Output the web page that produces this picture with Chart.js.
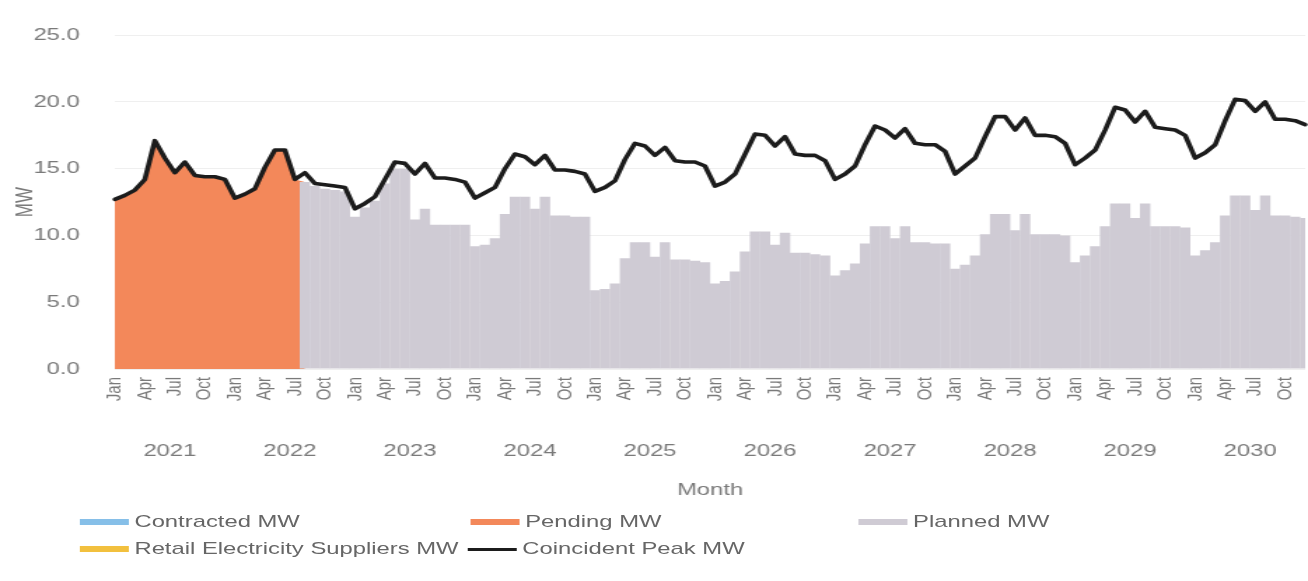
<!DOCTYPE html>
<html>
<head>
<meta charset="utf-8">
<title>Capacity vs Coincident Peak</title>
<script src="https://cdn.jsdelivr.net/npm/chart.js@4.4.1/dist/chart.umd.min.js"></script>
<style>
    html, body { margin: 0; padding: 0; background: #fff; overflow: hidden; }
    /* the source picture is stretched sideways, so the whole chart is drawn narrow and widened */
    #stage { position: absolute; left: 0; top: 0; width: 934px; height: 581px; transform: scaleX(1.4004); transform-origin: 0 0; }
    #chartBox { position: absolute; left: 0; top: 0; width: 934px; height: 505px; }
    #legend { position: absolute; left: 0; top: 505px; width: 934px; height: 76px;
              font-family: 'Liberation Sans', Arial, sans-serif; font-size: 17px; color: #666666; }
    .legend-item { position: absolute; display: flex; align-items: center; white-space: nowrap; height: 20px; }
    .legend-mark { display: inline-block; width: 35px; margin-right: 4px; }
</style>
</head>
<body>
<div id="stage">
    <div id="chartBox"><canvas id="capacityChart" width="934" height="505"></canvas></div>
    <div id="legend"></div>
</div>
<script>
/**
 * Capacity (Pending / Planned) vs Coincident Peak, Jan 2021 - Dec 2030
 */

const months = ['Jan', 'Feb', 'Mar', 'Apr', 'May', 'Jun', 'Jul', 'Aug', 'Sep', 'Oct', 'Nov', 'Dec'];
const years = [2021, 2022, 2023, 2024, 2025, 2026, 2027, 2028, 2029, 2030];
const yTicks = [0, 5, 10, 15, 20, 25];

// Coincident Peak MW, one value per month (Jan 2021 .. Dec 2030)
const peakMW = [
    12.7, 13.0, 13.4, 14.2, 17.1, 15.8, 14.7, 15.5, 14.5, 14.4, 14.4, 14.2,
    12.8, 13.1, 13.5, 15.1, 16.4, 16.4, 14.2, 14.7, 13.9, 13.8, 13.7, 13.6,
    12.0, 12.4, 12.9, 14.2, 15.5, 15.4, 14.6, 15.4, 14.3, 14.3, 14.2, 14.0,
    12.8, 13.2, 13.6, 15.0, 16.1, 15.9, 15.3, 16.0, 14.9, 14.9, 14.8, 14.6,
    13.3, 13.6, 14.1, 15.7, 16.9, 16.7, 16.0, 16.6, 15.6, 15.5, 15.5, 15.2,
    13.7, 14.0, 14.6, 16.1, 17.6, 17.5, 16.7, 17.4, 16.1, 16.0, 16.0, 15.6,
    14.2, 14.6, 15.2, 16.8, 18.2, 17.9, 17.3, 18.0, 16.9, 16.8, 16.8, 16.3,
    14.6, 15.2, 15.8, 17.4, 18.9, 18.9, 17.9, 18.8, 17.5, 17.5, 17.4, 16.9,
    15.3, 15.8, 16.4, 17.9, 19.6, 19.4, 18.5, 19.3, 18.1, 18.0, 17.9, 17.5,
    15.8, 16.2, 16.8, 18.6, 20.2, 20.1, 19.3, 20.0, 18.7, 18.7, 18.6, 18.3
];

// Pending MW, Jan 2021 .. Aug 2022
const pendingMW = [
    12.7, 13.0, 13.4, 14.2, 17.1, 15.8, 14.7, 15.5, 14.5, 14.4, 14.4, 14.2,
    12.8, 13.1, 13.5, 15.1, 16.4, 16.4, 14.2, 14.0
];

// Planned MW, Aug 2022 .. Dec 2030
const plannedStart = 19; // Aug 2022
const plannedMW = [
    14.0, 13.7, 13.5, 13.4, 13.3,
    11.4, 12.1, 12.6, 13.9, 15.0, 15.0, 11.2, 12.0, 10.8, 10.8, 10.8, 10.8,
    9.2, 9.3, 9.8, 11.6, 12.9, 12.9, 12.0, 12.9, 11.5, 11.5, 11.4, 11.4,
    5.9, 6.0, 6.4, 8.3, 9.5, 9.5, 8.4, 9.5, 8.2, 8.2, 8.1, 8.0,
    6.4, 6.6, 7.3, 8.8, 10.3, 10.3, 9.3, 10.2, 8.7, 8.7, 8.6, 8.5,
    7.0, 7.4, 7.9, 9.4, 10.7, 10.7, 9.8, 10.7, 9.5, 9.5, 9.4, 9.4,
    7.5, 7.8, 8.5, 10.1, 11.6, 11.6, 10.4, 11.6, 10.1, 10.1, 10.1, 10.0,
    8.0, 8.5, 9.2, 10.7, 12.4, 12.4, 11.3, 12.4, 10.7, 10.7, 10.7, 10.6,
    8.5, 8.9, 9.5, 11.5, 13.0, 13.0, 11.9, 13.0, 11.5, 11.5, 11.4, 11.3
];

const FONT = "'Liberation Sans', Arial, sans-serif";
const TEXT_COLOR = '#7a7a7a';

const COLORS = {
    contracted: '#86bfe8',
    pending: '#f3885a',
    planned: '#cfcbd4',
    retail: '#f2c03e',
    peak: '#1c1c1c'
};

// Legend slots (left / row) in the un-stretched stage
const legendSlots = [
    { left: 57, row: 0 },   // Contracted
    { left: 336, row: 0 },  // Pending
    { left: 613, row: 0 },  // Planned
    { left: 57, row: 1 },   // Retail
    { left: 334, row: 1 }   // Coincident Peak
];

document.addEventListener('DOMContentLoaded', () => {
    const chart = renderChart();
    renderLegend(chart);
});

/**
 * Build chart
 */
function renderChart() {
    const categories = [];
    years.forEach(y => months.forEach(m => categories.push(m)));

    const plannedSeries = Array(plannedStart).fill(null).concat(plannedMW);

    const ctx = document.getElementById('capacityChart').getContext('2d');

    return new Chart(ctx, {
        data: {
            labels: categories,
            datasets: [
                {
                    type: 'line',
                    label: 'Contracted MW',
                    data: [],
                    borderColor: COLORS.contracted,
                    backgroundColor: COLORS.contracted,
                    xAxisID: 'x'
                },
                {
                    type: 'line',
                    label: 'Pending MW',
                    data: pendingMW,
                    borderWidth: 0,
                    borderColor: COLORS.pending,
                    backgroundColor: COLORS.pending,
                    pointRadius: 0,
                    fill: 'origin',
                    tension: 0,
                    order: 3,
                    xAxisID: 'x'
                },
                {
                    type: 'bar',
                    label: 'Planned MW',
                    data: plannedSeries,
                    backgroundColor: COLORS.planned,
                    borderColor: COLORS.planned,
                    borderWidth: 0,
                    barPercentage: 1.04,
                    categoryPercentage: 1,
                    order: 2,
                    xAxisID: 'x'
                },
                {
                    type: 'line',
                    label: 'Retail Electricity Suppliers MW',
                    data: [],
                    borderColor: COLORS.retail,
                    backgroundColor: COLORS.retail,
                    xAxisID: 'x'
                },
                {
                    type: 'line',
                    label: 'Coincident Peak MW',
                    data: peakMW,
                    borderColor: COLORS.peak,
                    backgroundColor: COLORS.peak,
                    borderWidth: 3.6,
                    borderJoinStyle: 'round',
                    borderCapStyle: 'round',
                    pointRadius: 0,
                    tension: 0,
                    fill: false,
                    order: 0,
                    xAxisID: 'x'
                }
            ]
        },
        options: {
            responsive: false,
            animation: false,
            layout: { padding: { top: 22, right: 2, bottom: 0, left: 0 } },
            plugins: {
                legend: { display: false },
                tooltip: { enabled: false }
            },
            scales: {
                x: {
                    type: 'category',
                    offset: false,
                    weight: 0,
                    grid: { display: false, drawTicks: false },
                    border: { display: false },
                    ticks: {
                        autoSkip: false,
                        minRotation: 90,
                        maxRotation: 90,
                        padding: 8,
                        color: TEXT_COLOR,
                        font: { family: FONT, size: 15 },
                        // only quarter starts are labelled
                        callback: function (value, index) {
                            return index % 3 === 0 ? this.getLabelForValue(value) : '';
                        }
                    },
                    afterFit: (scale) => {
                        scale.height = 60;
                        scale.paddingLeft = 0;
                        scale.paddingRight = 0;
                    }
                },
                x2: {
                    type: 'linear',
                    position: 'bottom',
                    weight: 1,
                    min: 0,
                    max: categories.length - 1,
                    grid: { display: false, drawTicks: false },
                    border: { display: false },
                    afterBuildTicks: (scale) => {
                        // one label in the middle of every year
                        scale.ticks = years.map((y, k) => ({ value: k * 12 + 5.5 }));
                    },
                    ticks: {
                        autoSkip: false,
                        maxRotation: 0,
                        padding: 12,
                        color: TEXT_COLOR,
                        font: { family: FONT, size: 17 },
                        callback: (v) => String(years[Math.round((v - 5.5) / 12)])
                    },
                    title: {
                        display: true,
                        text: 'Month',
                        color: TEXT_COLOR,
                        font: { family: FONT, size: 17 },
                        padding: { top: 0, bottom: 4 }
                    },
                    afterFit: (scale) => {
                        scale.height = 76;
                        scale.paddingLeft = 0;
                        scale.paddingRight = 0;
                    }
                },
                y: {
                    min: yTicks[0],
                    max: yTicks[yTicks.length - 1],
                    afterBuildTicks: (scale) => {
                        scale.ticks = yTicks.map(v => ({ value: v }));
                    },
                    grid: { color: '#efefef', drawTicks: false },
                    border: { display: false },
                    ticks: {
                        padding: 25,
                        color: TEXT_COLOR,
                        font: { family: FONT, size: 17 },
                        callback: (v) => Number(v).toFixed(1)
                    },
                    title: {
                        display: true,
                        text: 'MW',
                        color: TEXT_COLOR,
                        font: { family: FONT, size: 17 },
                        padding: { top: 8, bottom: 0 }
                    },
                    afterFit: (scale) => { scale.width = 82; }
                }
            }
        }
    });
}

/**
 * HTML legend laid out like the spreadsheet one (two wrapped rows)
 */
function renderLegend(chart) {
    const box = document.getElementById('legend');
    box.innerHTML = '';

    chart.data.datasets.forEach((ds, i) => {
        const slot = legendSlots[i];
        const isLine = ds.type === 'line' && !ds.fill && ds.data.length > 0;

        const item = document.createElement('div');
        item.className = 'legend-item';
        item.style.left = slot.left + 'px';
        item.style.top = (7 + slot.row * 27) + 'px';

        const mark = document.createElement('span');
        mark.className = 'legend-mark';
        mark.style.height = isLine ? '3px' : '6px';
        mark.style.background = ds.borderColor;

        const text = document.createElement('span');
        text.textContent = ds.label;

        item.appendChild(mark);
        item.appendChild(text);
        box.appendChild(item);
    });
}
</script>
</body>
</html>
